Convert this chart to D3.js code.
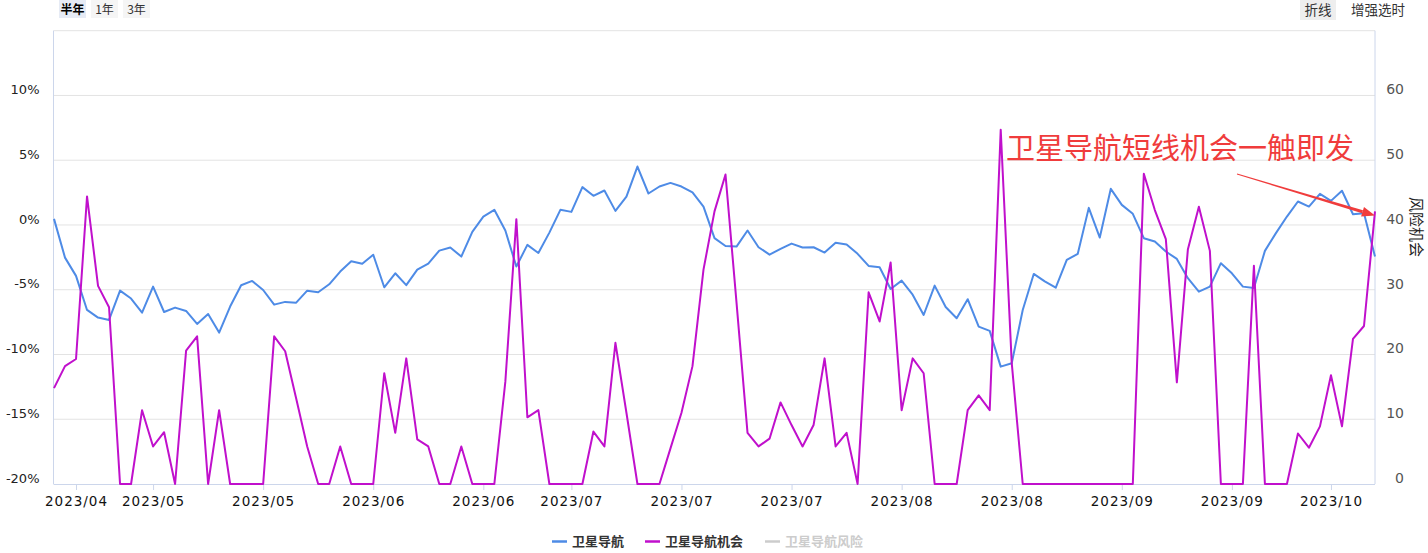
<!DOCTYPE html>
<html><head><meta charset="utf-8">
<script src="https://cdn.jsdelivr.net/npm/d3@7"></script>
<style>
html,body{margin:0;padding:0;background:#fff;}
svg{display:block;}
</style></head><body>
<svg id="chart" width="1428" height="553"></svg>
<script>
// ---------------- data ----------------
const seriesNames = ["卫星导航", "卫星导航机会", "卫星导航风险"];
const seriesColors = ["#4e8be6", "#c010cc", "#cccccc"];

// 卫星导航 (left axis, %)
const navValues = [
  0.47, -2.52, -3.93, -6.56, -7.15, -7.33, -5.07, -5.68, -6.77, -4.76,
  -6.72, -6.38, -6.64, -7.64, -6.87, -8.31, -6.30, -4.65, -4.32, -5.02,
  -6.15, -5.94, -6.00, -5.07, -5.19, -4.58, -3.60, -2.80, -3.00, -2.30,
  -4.81, -3.73, -4.65, -3.45, -2.98, -1.98, -1.74, -2.44, -0.53, 0.65,
  1.17, -0.43, -3.21, -1.54, -2.16, -0.59, 1.17, 1.01, 2.92, 2.25,
  2.66, 1.09, 2.19, 4.51, 2.43, 2.97, 3.25, 2.97, 2.51, 1.42,
  -1.02, -1.62, -1.67, -0.43, -1.72, -2.29, -1.85, -1.44, -1.74, -1.72,
  -2.13, -1.38, -1.51, -2.23, -3.16, -3.26, -4.94, -4.30, -5.38, -6.95,
  -4.68, -6.33, -7.20, -5.73, -7.85, -8.18, -10.94, -10.68, -6.56, -3.78,
  -4.35, -4.84, -2.70, -2.23, 1.32, -0.97, 2.79, 1.55, 0.86, -1.02,
  -1.28, -2.05, -2.62, -4.11, -5.15, -4.76, -2.95, -3.73, -4.76, -4.86,
  -2.00, -0.63, 0.65, 1.81, 1.42, 2.40, 1.86, 2.64, 0.83, 0.91,
  -2.44
];

// 卫星导航机会 (right axis)
const oppValues = [
  14.8, 18.2, 19.3, 44.4, 30.6, 27.3, 0, 0, 11.4, 5.8,
  8.0, 0, 20.6, 22.8, 0, 11.4, 0, 0, 0, 0,
  22.8, 20.5, 13.2, 5.8, 0, 0, 5.8, 0, 0, 0,
  17.1, 7.9, 19.4, 6.9, 5.8, 0, 0, 5.8, 0, 0,
  0, 15.8, 40.9, 10.3, 11.4, 0, 0, 0, 0, 8.1,
  5.8, 21.8, 11.0, 0, 0, 0, 5.5, 11.0, 18.2, 33.1,
  42.1, 47.8, 28.0, 7.9, 5.8, 7.0, 12.6, 9.1, 5.8, 9.1,
  19.4, 5.8, 7.9, 0, 29.6, 25.1, 34.2, 11.4, 19.4, 17.1,
  0, 0, 0, 11.4, 13.7, 11.4, 54.7, 18.7, 0, 0,
  0, 0, 0, 0, 0, 0, 0, 0, 0, 47.9,
  42.3, 37.8, 15.7, 36.2, 42.8, 36.0, 0, 0, 0, 33.7,
  0, 0, 0, 7.8, 5.6, 8.9, 16.8, 8.9, 22.4, 24.4,
  42.1
];

const xTickIndex = [2, 9, 19, 29, 39, 47, 57, 67, 77, 87, 97, 107, 116];
const xTickLabels = ["2023/04","2023/05","2023/05","2023/06","2023/06","2023/07","2023/07","2023/07","2023/08","2023/08","2023/09","2023/09","2023/10"];
const leftTicks = [-20, -15, -10, -5, 0, 5, 10];
const rightTicks = [0, 10, 20, 30, 40, 50, 60];
const gridTicks = [-15, -10, -5, 0, 5, 10, 15];
const rangeButtons = ["半年", "1年", "3年"];
const modeButtons = ["折线", "增强选时"];
const rightAxisTitle = "风险机会";
const annotationText = "卫星导航短线机会一触即发";

// ---------------- layout ----------------
const svg = d3.select("#chart");
const L = 53.5, R = 1375, T = 30.7, B = 484;
const numFont = "'DejaVu Sans', Verdana, sans-serif";
const cjkFont = "'Noto Sans CJK SC', 'Noto Sans', sans-serif";

const x = d3.scaleLinear().domain([0, navValues.length - 1]).range([54, 1375]);
const yL = d3.scaleLinear().domain([-20, 15]).range([B, T]);
const yR = d3.scaleLinear().domain([0, 70]).range([B, T]);

// gridlines
svg.append("g").selectAll("line").data(gridTicks).join("line")
  .attr("x1", L).attr("x2", R)
  .attr("y1", d => yL(d)).attr("y2", d => yL(d))
  .attr("stroke", "#e3e3e3").attr("stroke-width", 1);

// left axis line & right border
svg.append("line").attr("x1", L).attr("x2", L).attr("y1", T).attr("y2", B)
  .attr("stroke", "#ccd6eb").attr("stroke-width", 1);
svg.append("line").attr("x1", R).attr("x2", R).attr("y1", T).attr("y2", B)
  .attr("stroke", "#ccd6eb").attr("stroke-width", 1);

// left axis
const gL = svg.append("g").attr("transform", `translate(${L},0)`)
  .call(d3.axisLeft(yL).tickValues(leftTicks).tickFormat(d => d + "%").tickSize(0).tickPadding(14));
gL.select(".domain").remove();
gL.selectAll("text").attr("dy", "-0.15em").attr("fill", "#222")
  .style("font-family", numFont).style("font-size", "13px");

// right axis
const gR = svg.append("g").attr("transform", `translate(${R},0)`)
  .call(d3.axisRight(yR).tickValues(rightTicks).tickSize(0));
gR.select(".domain").remove();
gR.selectAll("text").attr("x", 29).attr("dy", "-0.12em").attr("text-anchor", "end")
  .attr("fill", "#555").style("font-family", numFont).style("font-size", "14px");

// x axis
const gX = svg.append("g").attr("transform", `translate(0,${B})`)
  .call(d3.axisBottom(x).tickValues(xTickIndex).tickFormat((d, i) => xTickLabels[i]).tickSizeOuter(0).tickSize(6).tickPadding(6));
gX.select(".domain").attr("d", `M${L},0.5H${R}`).attr("stroke", "#ccd6eb");
gX.selectAll(".tick line").attr("stroke", "#ccd6eb");
gX.selectAll("text").attr("fill", "#111")
  .style("font-family", numFont).style("font-size", "13.5px").style("letter-spacing", "1px");

// lines
const lineL = d3.line().x((d, i) => x(i)).y(d => yL(d));
const lineR = d3.line().x((d, i) => x(i)).y(d => yR(d));
svg.append("path").datum(navValues).attr("d", lineL)
  .attr("fill", "none").attr("stroke", seriesColors[0]).attr("stroke-width", 2).attr("stroke-linejoin", "round");
svg.append("path").datum(oppValues).attr("d", lineR)
  .attr("fill", "none").attr("stroke", seriesColors[1]).attr("stroke-width", 2).attr("stroke-linejoin", "round");

// right axis title (vertical)
svg.append("text").text(rightAxisTitle)
  .attr("transform", "translate(1411,197) rotate(90)")
  .attr("fill", "#222").style("font-family", cjkFont).style("font-size", "15px");

// top-left range buttons
const btnX = [59, 91, 123];
rangeButtons.forEach((b, i) => {
  svg.append("rect").attr("x", btnX[i]).attr("y", 0).attr("width", 27).attr("height", 18)
    .attr("fill", i === 0 ? "#e6ebf5" : "#f5f5f5");
  svg.append("text").text(b).attr("x", btnX[i] + 13.5).attr("y", 13.5)
    .attr("text-anchor", "middle").attr("fill", i === 0 ? "#000" : "#333")
    .style("font-weight", i === 0 ? "bold" : "normal")
    .style("font-family", cjkFont).style("font-size", "12px");
});

// top-right mode buttons
svg.append("rect").attr("x", 1300).attr("y", 0).attr("width", 36).attr("height", 20).attr("fill", "#eeeeee");
svg.append("text").text(modeButtons[0]).attr("x", 1318).attr("y", 15)
  .attr("text-anchor", "middle").attr("fill", "#333").style("font-family", cjkFont).style("font-size", "13.5px");
svg.append("text").text(modeButtons[1]).attr("x", 1378).attr("y", 15)
  .attr("text-anchor", "middle").attr("fill", "#333").style("font-family", cjkFont).style("font-size", "13.5px");

// legend
const legX = [552, 645, 765];
seriesNames.forEach((n, i) => {
  svg.append("line").attr("x1", legX[i]).attr("x2", legX[i] + 15).attr("y1", 541.5).attr("y2", 541.5)
    .attr("stroke", seriesColors[i]).attr("stroke-width", 2.5);
  svg.append("text").text(n).attr("x", legX[i] + 20).attr("y", 546)
    .attr("fill", i === 2 ? "#cccccc" : "#333").style("font-weight", "bold")
    .style("font-family", cjkFont).style("font-size", "13px");
});

// annotation
svg.append("text").text(annotationText).attr("x", 1006).attr("y", 159)
  .attr("fill", "#f03c3c").style("font-family", cjkFont).style("font-size", "29px");
const ax0 = 1237, ay0 = 174, ax1 = 1375, ay1 = 215.5;
const dx = ax1 - ax0, dy = ay1 - ay0, len = Math.hypot(dx, dy);
const ux = dx / len, uy = dy / len, px = -uy, py = ux;
const hb = [ax1 - 13 * ux, ay1 - 13 * uy];
svg.append("path").attr("d",
  `M${ax0 + px * 0.4},${ay0 + py * 0.4} L${hb[0] + px * 1.5},${hb[1] + py * 1.5} L${hb[0] - px * 1.5},${hb[1] - py * 1.5} L${ax0 - px * 0.4},${ay0 - py * 0.4}Z`)
  .attr("fill", "#f03c3c");
svg.append("path").attr("d",
  `M${ax1},${ay1} L${hb[0] + px * 5},${hb[1] + py * 5} L${hb[0] - px * 5},${hb[1] - py * 5}Z`)
  .attr("fill", "#f03c3c");
</script>
</body></html>
